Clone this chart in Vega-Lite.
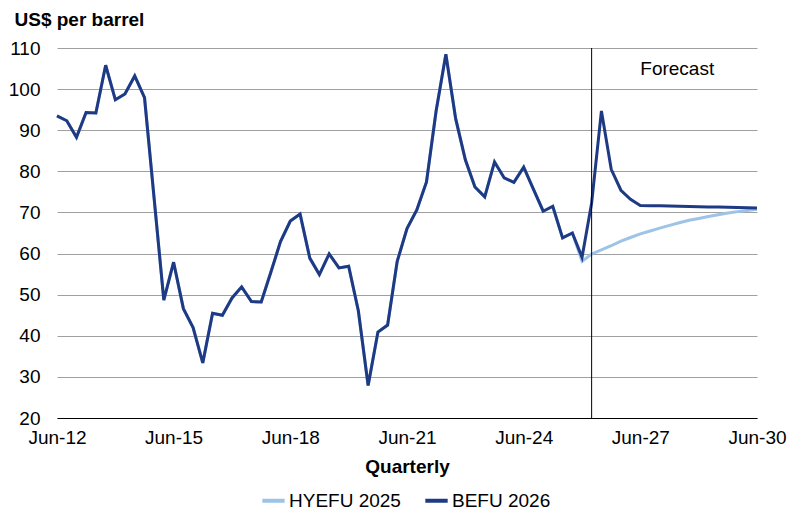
{
  "$schema": "https://vega.github.io/schema/vega-lite/v6.json",
  "width": 700,
  "height": 370,
  "autosize": {"type": "none"},
  "padding": {"left": 57, "top": 48, "right": 44, "bottom": 98},
  "background": "white",
  "config": {
    "view": {"stroke": null},
    "font": "Liberation Sans",
    "text": {"font": "Liberation Sans"}
  },
  "layer": [
    {
      "data": {
        "values": [
          {"date": "2012-06-01", "series": "HYEFU 2025", "value": 93.5},
          {"date": "2012-09-01", "series": "HYEFU 2025", "value": 92.3},
          {"date": "2012-12-01", "series": "HYEFU 2025", "value": 88.3},
          {"date": "2013-03-01", "series": "HYEFU 2025", "value": 94.3},
          {"date": "2013-06-01", "series": "HYEFU 2025", "value": 94.2},
          {"date": "2013-09-01", "series": "HYEFU 2025", "value": 105.8},
          {"date": "2013-12-01", "series": "HYEFU 2025", "value": 97.4},
          {"date": "2014-03-01", "series": "HYEFU 2025", "value": 98.8},
          {"date": "2014-06-01", "series": "HYEFU 2025", "value": 103.2},
          {"date": "2014-09-01", "series": "HYEFU 2025", "value": 97.9},
          {"date": "2014-12-01", "series": "HYEFU 2025", "value": 73.2},
          {"date": "2015-03-01", "series": "HYEFU 2025", "value": 48.7},
          {"date": "2015-06-01", "series": "HYEFU 2025", "value": 57.9},
          {"date": "2015-09-01", "series": "HYEFU 2025", "value": 46.6},
          {"date": "2015-12-01", "series": "HYEFU 2025", "value": 42.0},
          {"date": "2016-03-01", "series": "HYEFU 2025", "value": 33.4},
          {"date": "2016-06-01", "series": "HYEFU 2025", "value": 45.5},
          {"date": "2016-09-01", "series": "HYEFU 2025", "value": 45.0},
          {"date": "2016-12-01", "series": "HYEFU 2025", "value": 49.2},
          {"date": "2017-03-01", "series": "HYEFU 2025", "value": 51.9},
          {"date": "2017-06-01", "series": "HYEFU 2025", "value": 48.3},
          {"date": "2017-09-01", "series": "HYEFU 2025", "value": 48.2},
          {"date": "2017-12-01", "series": "HYEFU 2025", "value": 55.5},
          {"date": "2018-03-01", "series": "HYEFU 2025", "value": 62.9},
          {"date": "2018-06-01", "series": "HYEFU 2025", "value": 67.9},
          {"date": "2018-09-01", "series": "HYEFU 2025", "value": 69.6},
          {"date": "2018-12-01", "series": "HYEFU 2025", "value": 58.9},
          {"date": "2019-03-01", "series": "HYEFU 2025", "value": 54.9},
          {"date": "2019-06-01", "series": "HYEFU 2025", "value": 59.9},
          {"date": "2019-09-01", "series": "HYEFU 2025", "value": 56.5},
          {"date": "2019-12-01", "series": "HYEFU 2025", "value": 56.9},
          {"date": "2020-03-01", "series": "HYEFU 2025", "value": 46.1},
          {"date": "2020-06-01", "series": "HYEFU 2025", "value": 27.9},
          {"date": "2020-09-01", "series": "HYEFU 2025", "value": 40.9},
          {"date": "2020-12-01", "series": "HYEFU 2025", "value": 42.6},
          {"date": "2021-03-01", "series": "HYEFU 2025", "value": 58.1},
          {"date": "2021-06-01", "series": "HYEFU 2025", "value": 66.1},
          {"date": "2021-09-01", "series": "HYEFU 2025", "value": 70.6},
          {"date": "2021-12-01", "series": "HYEFU 2025", "value": 77.4},
          {"date": "2022-03-01", "series": "HYEFU 2025", "value": 94.6},
          {"date": "2022-06-01", "series": "HYEFU 2025", "value": 108.5},
          {"date": "2022-09-01", "series": "HYEFU 2025", "value": 92.8},
          {"date": "2022-12-01", "series": "HYEFU 2025", "value": 82.8},
          {"date": "2023-03-01", "series": "HYEFU 2025", "value": 76.2},
          {"date": "2023-06-01", "series": "HYEFU 2025", "value": 73.8},
          {"date": "2023-09-01", "series": "HYEFU 2025", "value": 82.3},
          {"date": "2023-12-01", "series": "HYEFU 2025", "value": 78.4},
          {"date": "2024-03-01", "series": "HYEFU 2025", "value": 77.3},
          {"date": "2024-06-01", "series": "HYEFU 2025", "value": 81.0},
          {"date": "2024-09-01", "series": "HYEFU 2025", "value": 75.6},
          {"date": "2024-12-01", "series": "HYEFU 2025", "value": 70.3},
          {"date": "2025-03-01", "series": "HYEFU 2025", "value": 71.5},
          {"date": "2025-06-01", "series": "HYEFU 2025", "value": 63.8},
          {"date": "2025-09-01", "series": "HYEFU 2025", "value": 65.0},
          {"date": "2025-12-01", "series": "HYEFU 2025", "value": 58.1},
          {"date": "2026-03-01", "series": "HYEFU 2025", "value": 59.9},
          {"date": "2026-06-01", "series": "HYEFU 2025", "value": 60.9},
          {"date": "2026-09-01", "series": "HYEFU 2025", "value": 61.9},
          {"date": "2026-12-01", "series": "HYEFU 2025", "value": 63.0},
          {"date": "2027-03-01", "series": "HYEFU 2025", "value": 63.9},
          {"date": "2027-06-01", "series": "HYEFU 2025", "value": 64.8},
          {"date": "2027-09-01", "series": "HYEFU 2025", "value": 65.5},
          {"date": "2027-12-01", "series": "HYEFU 2025", "value": 66.2},
          {"date": "2028-03-01", "series": "HYEFU 2025", "value": 66.85},
          {"date": "2028-06-01", "series": "HYEFU 2025", "value": 67.5},
          {"date": "2028-09-01", "series": "HYEFU 2025", "value": 68.1},
          {"date": "2028-12-01", "series": "HYEFU 2025", "value": 68.55},
          {"date": "2029-03-01", "series": "HYEFU 2025", "value": 69.0},
          {"date": "2029-06-01", "series": "HYEFU 2025", "value": 69.45},
          {"date": "2029-09-01", "series": "HYEFU 2025", "value": 69.85},
          {"date": "2029-12-01", "series": "HYEFU 2025", "value": 70.2},
          {"date": "2030-03-01", "series": "HYEFU 2025", "value": 70.5},
          {"date": "2030-06-01", "series": "HYEFU 2025", "value": 70.8},
          {"date": "2012-06-01", "series": "BEFU 2026", "value": 93.5},
          {"date": "2012-09-01", "series": "BEFU 2026", "value": 92.3},
          {"date": "2012-12-01", "series": "BEFU 2026", "value": 88.3},
          {"date": "2013-03-01", "series": "BEFU 2026", "value": 94.3},
          {"date": "2013-06-01", "series": "BEFU 2026", "value": 94.2},
          {"date": "2013-09-01", "series": "BEFU 2026", "value": 105.8},
          {"date": "2013-12-01", "series": "BEFU 2026", "value": 97.4},
          {"date": "2014-03-01", "series": "BEFU 2026", "value": 98.8},
          {"date": "2014-06-01", "series": "BEFU 2026", "value": 103.2},
          {"date": "2014-09-01", "series": "BEFU 2026", "value": 97.9},
          {"date": "2014-12-01", "series": "BEFU 2026", "value": 73.2},
          {"date": "2015-03-01", "series": "BEFU 2026", "value": 48.7},
          {"date": "2015-06-01", "series": "BEFU 2026", "value": 57.9},
          {"date": "2015-09-01", "series": "BEFU 2026", "value": 46.6},
          {"date": "2015-12-01", "series": "BEFU 2026", "value": 42.0},
          {"date": "2016-03-01", "series": "BEFU 2026", "value": 33.4},
          {"date": "2016-06-01", "series": "BEFU 2026", "value": 45.5},
          {"date": "2016-09-01", "series": "BEFU 2026", "value": 45.0},
          {"date": "2016-12-01", "series": "BEFU 2026", "value": 49.2},
          {"date": "2017-03-01", "series": "BEFU 2026", "value": 51.9},
          {"date": "2017-06-01", "series": "BEFU 2026", "value": 48.3},
          {"date": "2017-09-01", "series": "BEFU 2026", "value": 48.2},
          {"date": "2017-12-01", "series": "BEFU 2026", "value": 55.5},
          {"date": "2018-03-01", "series": "BEFU 2026", "value": 62.9},
          {"date": "2018-06-01", "series": "BEFU 2026", "value": 67.9},
          {"date": "2018-09-01", "series": "BEFU 2026", "value": 69.6},
          {"date": "2018-12-01", "series": "BEFU 2026", "value": 58.9},
          {"date": "2019-03-01", "series": "BEFU 2026", "value": 54.9},
          {"date": "2019-06-01", "series": "BEFU 2026", "value": 59.9},
          {"date": "2019-09-01", "series": "BEFU 2026", "value": 56.5},
          {"date": "2019-12-01", "series": "BEFU 2026", "value": 56.9},
          {"date": "2020-03-01", "series": "BEFU 2026", "value": 46.1},
          {"date": "2020-06-01", "series": "BEFU 2026", "value": 27.9},
          {"date": "2020-09-01", "series": "BEFU 2026", "value": 40.9},
          {"date": "2020-12-01", "series": "BEFU 2026", "value": 42.6},
          {"date": "2021-03-01", "series": "BEFU 2026", "value": 58.1},
          {"date": "2021-06-01", "series": "BEFU 2026", "value": 66.1},
          {"date": "2021-09-01", "series": "BEFU 2026", "value": 70.6},
          {"date": "2021-12-01", "series": "BEFU 2026", "value": 77.4},
          {"date": "2022-03-01", "series": "BEFU 2026", "value": 94.6},
          {"date": "2022-06-01", "series": "BEFU 2026", "value": 108.5},
          {"date": "2022-09-01", "series": "BEFU 2026", "value": 92.8},
          {"date": "2022-12-01", "series": "BEFU 2026", "value": 82.8},
          {"date": "2023-03-01", "series": "BEFU 2026", "value": 76.2},
          {"date": "2023-06-01", "series": "BEFU 2026", "value": 73.8},
          {"date": "2023-09-01", "series": "BEFU 2026", "value": 82.3},
          {"date": "2023-12-01", "series": "BEFU 2026", "value": 78.4},
          {"date": "2024-03-01", "series": "BEFU 2026", "value": 77.3},
          {"date": "2024-06-01", "series": "BEFU 2026", "value": 81.0},
          {"date": "2024-09-01", "series": "BEFU 2026", "value": 75.6},
          {"date": "2024-12-01", "series": "BEFU 2026", "value": 70.3},
          {"date": "2025-03-01", "series": "BEFU 2026", "value": 71.5},
          {"date": "2025-06-01", "series": "BEFU 2026", "value": 63.8},
          {"date": "2025-09-01", "series": "BEFU 2026", "value": 65.0},
          {"date": "2025-12-01", "series": "BEFU 2026", "value": 59.1},
          {"date": "2026-03-01", "series": "BEFU 2026", "value": 72.3},
          {"date": "2026-06-01", "series": "BEFU 2026", "value": 94.7},
          {"date": "2026-09-01", "series": "BEFU 2026", "value": 80.5},
          {"date": "2026-12-01", "series": "BEFU 2026", "value": 75.4},
          {"date": "2027-03-01", "series": "BEFU 2026", "value": 73.2},
          {"date": "2027-06-01", "series": "BEFU 2026", "value": 71.7},
          {"date": "2027-09-01", "series": "BEFU 2026", "value": 71.65},
          {"date": "2027-12-01", "series": "BEFU 2026", "value": 71.6},
          {"date": "2028-03-01", "series": "BEFU 2026", "value": 71.55},
          {"date": "2028-06-01", "series": "BEFU 2026", "value": 71.5},
          {"date": "2028-09-01", "series": "BEFU 2026", "value": 71.45},
          {"date": "2028-12-01", "series": "BEFU 2026", "value": 71.4},
          {"date": "2029-03-01", "series": "BEFU 2026", "value": 71.35},
          {"date": "2029-06-01", "series": "BEFU 2026", "value": 71.3},
          {"date": "2029-09-01", "series": "BEFU 2026", "value": 71.25},
          {"date": "2029-12-01", "series": "BEFU 2026", "value": 71.2},
          {"date": "2030-03-01", "series": "BEFU 2026", "value": 71.15},
          {"date": "2030-06-01", "series": "BEFU 2026", "value": 71.1}
        ]
      },
      "mark": {"type": "line", "strokeWidth": 3, "strokeJoin": "miter", "strokeCap": "butt"},
      "encoding": {
        "x": {
          "field": "date",
          "type": "temporal",
          "scale": {"type": "utc", "domain": [{"year": 2012, "month": 6, "date": 1, "utc": true}, {"year": 2030, "month": 6, "date": 1, "utc": true}], "nice": false},
          "axis": {
            "title": "Quarterly",
            "titleFont": "Liberation Sans",
            "titleFontSize": 19,
            "titleFontWeight": "bold",
            "titleColor": "#000000",
            "titlePadding": 10,
            "values": [
              {"year": 2012, "month": 6, "date": 1, "utc": true},
              {"year": 2015, "month": 6, "date": 1, "utc": true},
              {"year": 2018, "month": 6, "date": 1, "utc": true},
              {"year": 2021, "month": 6, "date": 1, "utc": true},
              {"year": 2024, "month": 6, "date": 1, "utc": true},
              {"year": 2027, "month": 6, "date": 1, "utc": true},
              {"year": 2030, "month": 6, "date": 1, "utc": true}
            ],
            "format": "%b-%y",
            "labelFont": "Liberation Sans",
            "labelFontSize": 19,
            "labelColor": "#000000",
            "labelPadding": 10,
            "labelOverlap": false,
            "labelFlush": false,
            "ticks": false,
            "grid": false,
            "domainColor": "#000000",
            "domainWidth": 1
          }
        },
        "y": {
          "field": "value",
          "type": "quantitative",
          "scale": {"domain": [20, 110], "nice": false, "zero": false},
          "axis": {
            "title": "US$ per barrel",
            "titleAngle": 0,
            "titleAlign": "left",
            "titleBaseline": "alphabetic",
            "titleX": -43,
            "titleY": -23,
            "titleFont": "Liberation Sans",
            "titleFontSize": 19,
            "titleFontWeight": "bold",
            "titleColor": "#000000",
            "values": [20, 30, 40, 50, 60, 70, 80, 90, 100, 110],
            "labelFont": "Liberation Sans",
            "labelFontSize": 19,
            "labelColor": "#000000",
            "labelPadding": 17,
            "ticks": false,
            "domain": false,
            "grid": true,
            "gridColor": "#A0A0A0",
            "gridWidth": 1
          }
        },
        "color": {
          "field": "series",
          "type": "nominal",
          "scale": {"domain": ["HYEFU 2025", "BEFU 2026"], "range": ["#9DC3E6", "#1F3A84"]},
          "legend": {
            "title": null,
            "orient": "none",
            "legendX": 203,
            "legendY": 439,
            "direction": "horizontal",
            "symbolType": "stroke",
            "symbolStrokeWidth": 4,
            "symbolSize": 500,
            "labelFont": "Liberation Sans",
            "labelFontSize": 19,
            "labelColor": "#000000",
            "labelOffset": 2,
            "columnPadding": 16
          }
        }
      }
    },
    {
      "data": {"values": [{"date": "2026-03-01"}]},
      "mark": {"type": "rule", "color": "#000000", "strokeWidth": 1},
      "encoding": {
        "x": {"field": "date", "type": "temporal"}
      }
    },
    {
      "data": {"values": [{"date": "2027-06-01", "value": 103.5, "label": "Forecast"}]},
      "mark": {"type": "text", "align": "left", "baseline": "alphabetic", "font": "Liberation Sans", "fontSize": 19, "color": "#000000"},
      "encoding": {
        "x": {"field": "date", "type": "temporal"},
        "y": {"field": "value", "type": "quantitative"},
        "text": {"field": "label"}
      }
    }
  ]
}
